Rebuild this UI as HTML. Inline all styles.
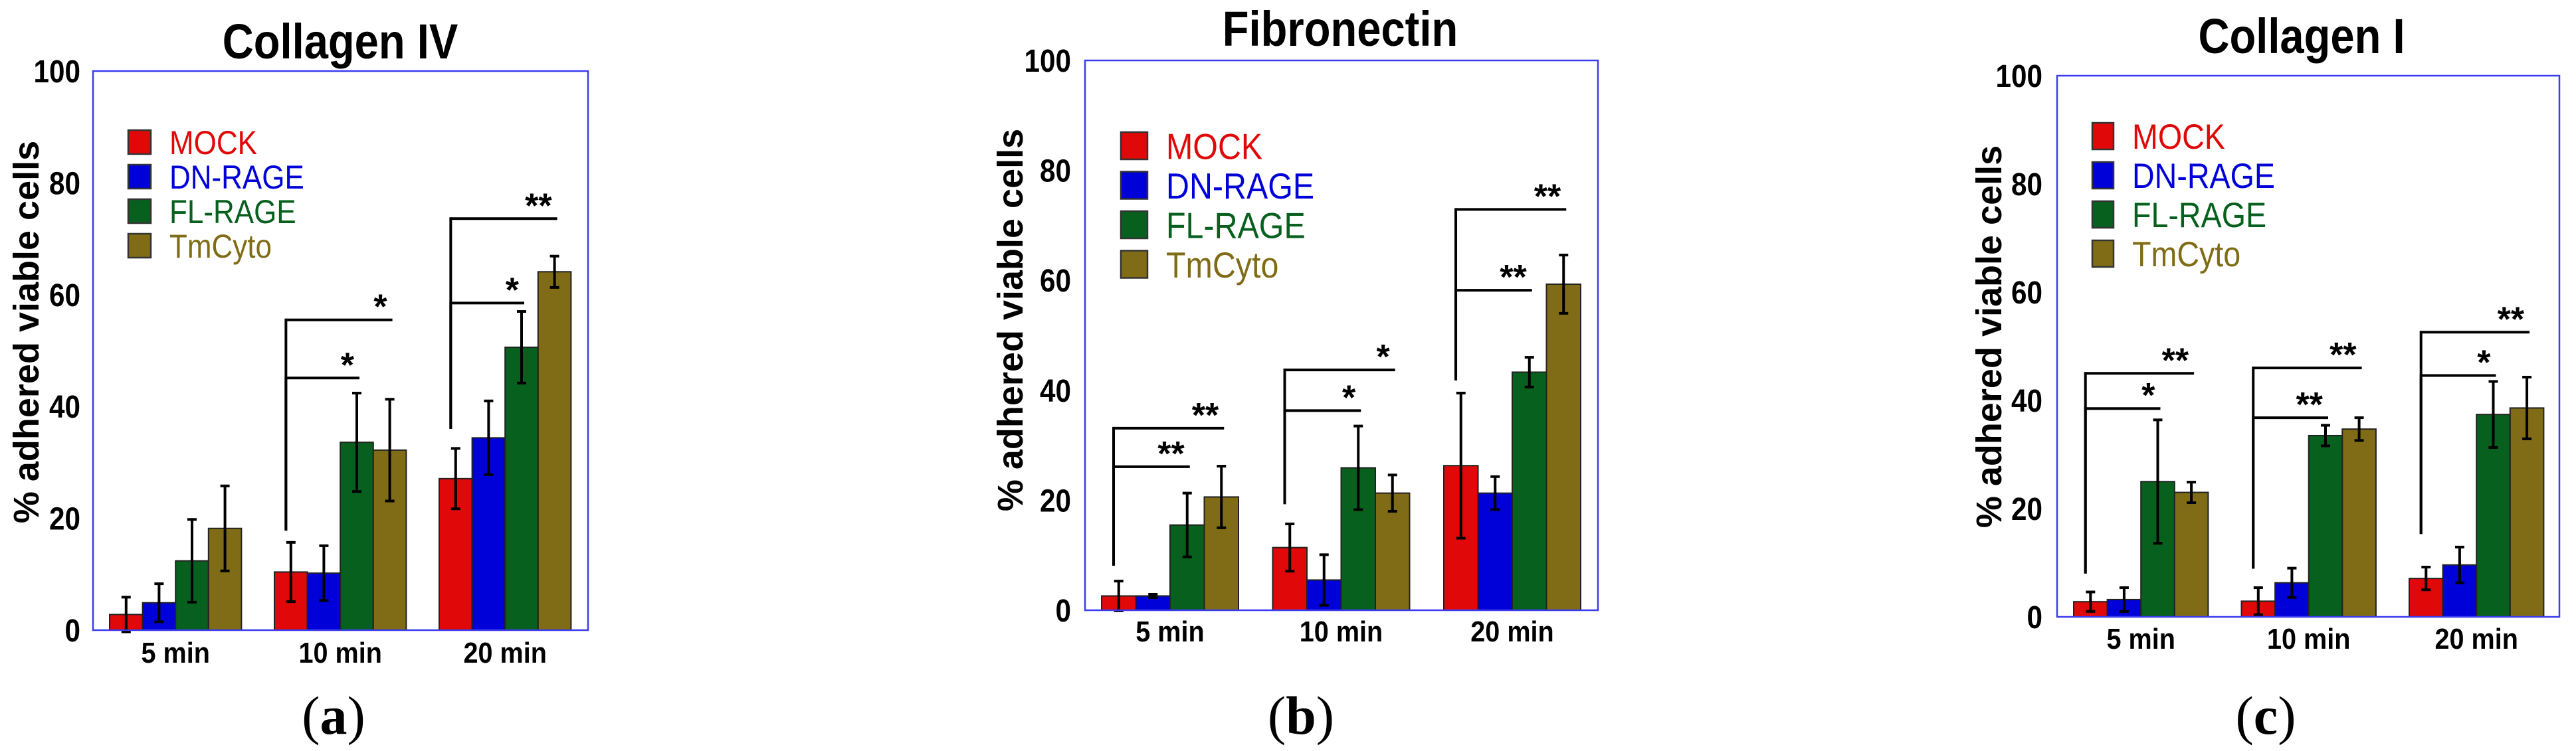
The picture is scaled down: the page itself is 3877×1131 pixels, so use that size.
<!DOCTYPE html>
<html><head><meta charset="utf-8"><style>
html,body{margin:0;padding:0;background:#fff;}
svg{display:block;}
</style></head>
<body>
<svg id="fig" width="3877" height="1131" viewBox="0 0 3877 1131" xmlns="http://www.w3.org/2000/svg" font-family="Liberation Sans, sans-serif"></svg>
<script>
const categories = ["5 min", "10 min", "20 min"];
const seriesNames = ["MOCK", "DN-RAGE", "FL-RAGE", "TmCyto"];
const yTicks = [0, 20, 40, 60, 80, 100];

// Panel a: Collagen IV
const colIV_mock = [2.8, 10.4, 27.1];
const colIV_dn   = [4.9, 10.2, 34.4];
const colIV_fl   = [12.4, 33.6, 50.6];
const colIV_tm   = [18.2, 32.2, 64.1];
const colIV_mockErr = [3.1, 5.3, 5.4];
const colIV_dnErr   = [3.4, 4.9, 6.6];
const colIV_flErr   = [7.4, 8.8, 6.4];
const colIV_tmErr   = [7.6, 9.1, 2.8];

// Panel b: Fibronectin
const fn_mock = [2.6, 11.4, 26.3];
const fn_dn   = [2.6, 5.5, 21.3];
const fn_fl   = [15.5, 25.9, 43.3];
const fn_tm   = [20.6, 21.3, 59.3];
const fn_mockErr = [2.7, 4.3, 13.2];
const fn_dnErr   = [0.3, 4.6, 3.0];
const fn_flErr   = [5.8, 7.6, 2.7];
const fn_tmErr   = [5.6, 3.3, 5.3];

// Panel c: Collagen I
const colI_mock = [2.8, 2.9, 7.1];
const colI_dn   = [3.2, 6.3, 9.6];
const colI_fl   = [25.0, 33.5, 37.4];
const colI_tm   = [23.0, 34.7, 38.6];
const colI_mockErr = [1.8, 2.5, 2.1];
const colI_dnErr   = [2.2, 2.7, 3.3];
const colI_flErr   = [11.4, 1.9, 6.1];
const colI_tmErr   = [1.9, 2.1, 5.7];

// significance brackets: [group, targetSeries, yLevel, label, verticalBottom]
const colIV_sig = [[1, 3, 55.5, "*", 17.8], [1, 2, 45.1, "*", 17.8], [2, 3, 73.6, "**", 36], [2, 2, 58.5, "*", 36]];
const fn_sig    = [[0, 3, 33.1, "**", 8.1], [0, 2, 26.1, "**", 8.1], [1, 3, 43.7, "*", 19.3], [1, 2, 36.3, "*", 19.3], [2, 3, 72.9, "**", 41.8], [2, 2, 58.2, "**", 41.8]];
const colI_sig  = [[0, 3, 45, "**", 8], [0, 2, 38.5, "*", 8], [1, 3, 46, "**", 8.9], [1, 2, 36.8, "**", 8.9], [2, 3, 52.6, "**", 15.3], [2, 2, 44.6, "*", 15.3]];

const colors = ["#e00808", "#0000d8", "#08601e", "#806c16"];
const NS = "http://www.w3.org/2000/svg";
const svg = document.getElementById("fig");

function mk(tag, attrs, parent, text) {
  const e = document.createElementNS(NS, tag);
  for (const k in attrs) e.setAttribute(k, attrs[k]);
  if (text !== undefined) e.textContent = text;
  (parent || svg).appendChild(e);
  return e;
}

const panels = [
  {id:"collagen-iv", title:"Collagen IV", letter:"a", L:140, R:885, T:107, B:949, g0:165, gStep:248, bw:49.6,
   titleX:512, titleY:88, tickX:121, ylX:40, ylY:500, catY:998, letterX:502, letterY:1105,
   legX:193, legY:196, legSq:34, legH:36, legStep:52, legFont:50,
   vals:[colIV_mock, colIV_dn, colIV_fl, colIV_tm], errs:[colIV_mockErr, colIV_dnErr, colIV_flErr, colIV_tmErr], sig:colIV_sig},
  {id:"fibronectin", title:"Fibronectin", letter:"b", L:1633, R:2405, T:91, B:919, g0:1658, gStep:257.5, bw:51.5,
   titleX:2017, titleY:69, tickX:1612, ylX:1521, ylY:482, catY:966, letterX:1958, letterY:1105,
   legX:1687, legY:199, legSq:40, legH:41, legStep:59.5, legFont:55,
   vals:[fn_mock, fn_dn, fn_fl, fn_tm], errs:[fn_mockErr, fn_dnErr, fn_flErr, fn_tmErr], sig:fn_sig},
  {id:"collagen-i", title:"Collagen I", letter:"c", L:3096, R:3852, T:114, B:929, g0:3121, gStep:252.5, bw:50.6,
   titleX:3464, titleY:80, tickX:3074, ylX:2994, ylY:507, catY:977, letterX:3410, letterY:1105,
   legX:3149, legY:185, legSq:32, legH:40, legStep:59, legFont:53,
   vals:[colI_mock, colI_dn, colI_fl, colI_tm], errs:[colI_mockErr, colI_dnErr, colI_flErr, colI_tmErr], sig:colI_sig}
];

panels.forEach(p => {
  const g = mk("g", {});
  
  
  const y = v => p.B - (v / 100) * (p.B - p.T);
  const xBar = (gi, si) => p.g0 + gi * p.gStep + si * p.bw;
  const xC = (gi, si) => xBar(gi, si) + p.bw / 2;

  const t = mk("text", {x:p.titleX, y:p.titleY, "text-anchor":"middle", "font-size":74, "font-weight":"bold", fill:"#000", transform:`translate(${p.titleX} 0) scale(0.88 1) translate(${-p.titleX} 0)`}, g, p.title);
  
  

  yTicks.forEach(v => {
    const tl = mk("text", {x:p.tickX, y:y(v) + 17, "text-anchor":"end", "font-size":48, "font-weight":"bold", fill:"#000", transform:`translate(${p.tickX} 0) scale(0.88 1) translate(${-p.tickX} 0)`}, g, String(v));
    
    
  });

  const yl = mk("text", {x:0, y:0, "text-anchor":"middle", "font-size":54, "font-weight":"bold", fill:"#000", transform:`translate(${p.ylX + 18} ${p.ylY}) rotate(-90)`}, g, "% adhered viable cells");
  
  

  // bars
  p.vals.forEach((arr, si) => {
    arr.forEach((v, gi) => {
      const r = mk("rect", {x:xBar(gi, si), y:y(v), width:p.bw, height:p.B - y(v), fill:colors[si], stroke:"#222", "stroke-width":2}, g);
      
      
    });
  });
  // error bars
  p.vals.forEach((arr, si) => {
    arr.forEach((v, gi) => {
      const e = p.errs[si][gi], cx = xC(gi, si);
      const eg = mk("g", {stroke:"#000", "stroke-width":4}, g);
      
      
      mk("line", {x1:cx, x2:cx, y1:y(v - e), y2:y(v + e)}, eg);
      mk("line", {x1:cx - 7, x2:cx + 7, y1:y(v + e), y2:y(v + e)}, eg);
      mk("line", {x1:cx - 7, x2:cx + 7, y1:y(v - e), y2:y(v - e)}, eg);
    });
  });

  // axis box
  const box = mk("rect", {x:p.L, y:p.T, width:p.R - p.L, height:p.B - p.T, fill:"none", stroke:"#3c3cee", "stroke-width":2.5}, g);
  
  

  // significance brackets
  p.sig.forEach(s => {
    const [gi, ti, lvl, lab, vb] = s;
    const vx = xC(gi, 0) - p.bw * 0.15;
    const tx = xC(gi, ti) + 4;
    const bg = mk("g", {stroke:"#000", "stroke-width":4}, g);
    
    
    mk("line", {x1:vx, x2:vx, y1:y(vb), y2:y(lvl) - 2}, bg);
    mk("line", {x1:vx, x2:tx, y1:y(lvl), y2:y(lvl)}, bg);
    const st = mk("text", {x:tx - 8, y:y(lvl) - 2, "text-anchor":"end", "font-size":52, "font-weight":"bold", fill:"#000", stroke:"none"}, g, lab);
    
    
  });

  // categories
  categories.forEach((c, gi) => {
    const cx = xBar(gi, 0) + p.bw * 2;
    const ct = mk("text", {x:cx, y:p.catY, "text-anchor":"middle", "font-size":44, "font-weight":"bold", fill:"#000", transform:`translate(${cx} 0) scale(0.9 1) translate(${-cx} 0)`}, g, c);
    
    
  });

  // legend
  const lg = mk("g", {}, g);
  
  
  seriesNames.forEach((n, si) => {
    const yy = p.legY + si * p.legStep;
    const sq = mk("rect", {x:p.legX, y:yy, width:p.legSq, height:p.legH, fill:colors[si], stroke:"#333", "stroke-width":2.5}, lg);
    
    
    const tx = p.legX + p.legSq + 28;
    const lt = mk("text", {x:tx, y:yy + p.legH / 2 + p.legFont * 0.36, "font-size":p.legFont, fill:colors[si], transform:`translate(${tx} 0) scale(0.88 1) translate(${-tx} 0)`}, lg, n);
    
    
  });

  const pl = mk("text", {x:p.letterX, y:p.letterY, "text-anchor":"middle", "font-size":82, "font-family":"Liberation Serif, serif", fill:"#000"}, g);
  
  
  mk("tspan", {}, pl, "(");
  mk("tspan", {"font-weight":"bold"}, pl, p.letter);
  mk("tspan", {}, pl, ")");
});
</script>
</body></html>
